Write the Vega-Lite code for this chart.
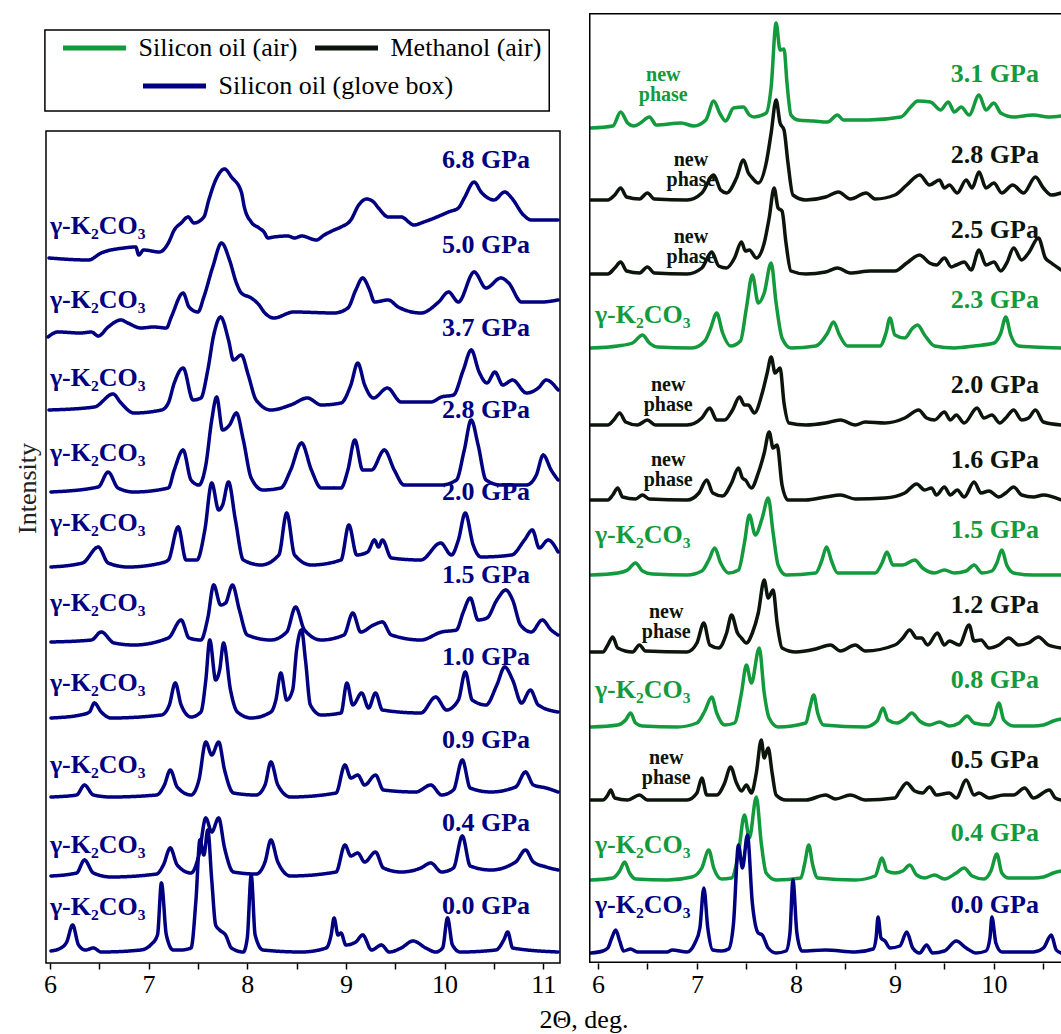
{
"$schema": "https://vega.github.io/schema/vega-lite/v6.json",
"background": "white",
"padding": {"left": 14, "top": 13, "right": 0, "bottom": 0},
"config": {"view": {"stroke": null}, "font": "Liberation Serif", "legend": {"labelFont": "Liberation Serif"}, "axis": {"labelFont": "Liberation Serif", "titleFont": "Liberation Serif"}},
"title": {"text": "2Θ, deg.", "orient": "bottom", "font": "Liberation Serif", "fontSize": 26, "fontWeight": "normal", "color": "black", "anchor": "middle", "dx": 46, "offset": 10},
"spacing": 29,
"bounds": "flush",
"resolve": {"scale": {"color": "independent"}, "legend": {"color": "independent"}},
"datasets": {
"ser": [
{"s":"L68","m":"Silicon oil (glove box)"},{"s":"L50","m":"Silicon oil (glove box)"},{"s":"L37","m":"Silicon oil (glove box)"},{"s":"L28","m":"Silicon oil (glove box)"},{"s":"L20","m":"Silicon oil (glove box)"},{"s":"L15","m":"Silicon oil (glove box)"},{"s":"L10","m":"Silicon oil (glove box)"},{"s":"L09","m":"Silicon oil (glove box)"},{"s":"L04","m":"Silicon oil (glove box)"},{"s":"L00","m":"Silicon oil (glove box)"},
{"s":"R31","m":"Silicon oil (air)"},{"s":"R28","m":"Methanol (air)"},{"s":"R25","m":"Methanol (air)"},{"s":"R23","m":"Silicon oil (air)"},{"s":"R20","m":"Methanol (air)"},{"s":"R16","m":"Methanol (air)"},{"s":"R15","m":"Silicon oil (air)"},{"s":"R12","m":"Methanol (air)"},{"s":"R08","m":"Silicon oil (air)"},{"s":"R05","m":"Methanol (air)"},{"s":"R04","m":"Silicon oil (air)"},{"s":"R00","m":"Silicon oil (glove box)"}
],
"L": [
{"s":"L68","x":5.99,"y":705},{"s":"L68","x":6.39,"y":703},{"s":"L68","x":6.52,"y":710},{"s":"L68","x":6.75,"y":715},{"s":"L68","x":6.87,"y":716},{"s":"L68","x":6.9,"y":708},{"s":"L68","x":6.95,"y":713},{"s":"L68","x":7.11,"y":711},{"s":"L68","x":7.2,"y":720},{"s":"L68","x":7.26,"y":733},{"s":"L68","x":7.33,"y":740},{"s":"L68","x":7.4,"y":746},{"s":"L68","x":7.46,"y":740},{"s":"L68","x":7.56,"y":746},{"s":"L68","x":7.61,"y":763},{"s":"L68","x":7.68,"y":783},{"s":"L68","x":7.77,"y":794},{"s":"L68","x":7.84,"y":786},{"s":"L68","x":7.94,"y":771},{"s":"L68","x":7.97,"y":756},{"s":"L68","x":8.04,"y":741},{"s":"L68","x":8.12,"y":735},{"s":"L68","x":8.17,"y":731},{"s":"L68","x":8.21,"y":725},{"s":"L68","x":8.27,"y":726},{"s":"L68","x":8.41,"y":727},{"s":"L68","x":8.48,"y":725},{"s":"L68","x":8.55,"y":727},{"s":"L68","x":8.7,"y":723},{"s":"L68","x":8.78,"y":728},{"s":"L68","x":8.88,"y":733},{"s":"L68","x":8.95,"y":736},{"s":"L68","x":9.05,"y":743},{"s":"L68","x":9.13,"y":758},{"s":"L68","x":9.21,"y":764},{"s":"L68","x":9.28,"y":761},{"s":"L68","x":9.33,"y":755},{"s":"L68","x":9.43,"y":746},{"s":"L68","x":9.56,"y":746},{"s":"L68","x":9.69,"y":738},{"s":"L68","x":9.79,"y":741},{"s":"L68","x":9.97,"y":748},{"s":"L68","x":10.04,"y":751},{"s":"L68","x":10.14,"y":755},{"s":"L68","x":10.2,"y":765},{"s":"L68","x":10.3,"y":781},{"s":"L68","x":10.37,"y":771},{"s":"L68","x":10.44,"y":765},{"s":"L68","x":10.5,"y":763},{"s":"L68","x":10.61,"y":771},{"s":"L68","x":10.68,"y":765},{"s":"L68","x":10.8,"y":748},{"s":"L68","x":10.88,"y":743},{"s":"L68","x":10.98,"y":743},{"s":"L68","x":11.15,"y":743},
{"s":"L50","x":5.98,"y":626},{"s":"L50","x":6.08,"y":631},{"s":"L50","x":6.31,"y":630},{"s":"L50","x":6.42,"y":631},{"s":"L50","x":6.49,"y":627},{"s":"L50","x":6.59,"y":636},{"s":"L50","x":6.72,"y":643},{"s":"L50","x":6.79,"y":640},{"s":"L50","x":6.92,"y":635},{"s":"L50","x":7.05,"y":636},{"s":"L50","x":7.18,"y":635},{"s":"L50","x":7.23,"y":646},{"s":"L50","x":7.35,"y":670},{"s":"L50","x":7.41,"y":656},{"s":"L50","x":7.5,"y":651},{"s":"L50","x":7.56,"y":666},{"s":"L50","x":7.65,"y":696},{"s":"L50","x":7.74,"y":720},{"s":"L50","x":7.82,"y":703},{"s":"L50","x":7.89,"y":680},{"s":"L50","x":7.94,"y":670},{"s":"L50","x":8.04,"y":665},{"s":"L50","x":8.12,"y":658},{"s":"L50","x":8.17,"y":651},{"s":"L50","x":8.27,"y":645},{"s":"L50","x":8.47,"y":651},{"s":"L50","x":8.88,"y":650},{"s":"L50","x":9.02,"y":655},{"s":"L50","x":9.1,"y":673},{"s":"L50","x":9.17,"y":685},{"s":"L50","x":9.24,"y":673},{"s":"L50","x":9.29,"y":661},{"s":"L50","x":9.43,"y":663},{"s":"L50","x":9.53,"y":656},{"s":"L50","x":9.76,"y":650},{"s":"L50","x":9.94,"y":661},{"s":"L50","x":10.04,"y":671},{"s":"L50","x":10.14,"y":661},{"s":"L50","x":10.3,"y":691},{"s":"L50","x":10.42,"y":675},{"s":"L50","x":10.57,"y":685},{"s":"L50","x":10.65,"y":680},{"s":"L50","x":10.78,"y":661},{"s":"L50","x":10.98,"y":661},{"s":"L50","x":11.15,"y":663},
{"s":"L37","x":5.99,"y":553},{"s":"L37","x":6.45,"y":556},{"s":"L37","x":6.64,"y":569},{"s":"L37","x":6.72,"y":560},{"s":"L37","x":6.85,"y":550},{"s":"L37","x":7.13,"y":553},{"s":"L37","x":7.2,"y":560},{"s":"L37","x":7.26,"y":580},{"s":"L37","x":7.35,"y":595},{"s":"L37","x":7.45,"y":563},{"s":"L37","x":7.53,"y":565},{"s":"L37","x":7.6,"y":593},{"s":"L37","x":7.66,"y":628},{"s":"L37","x":7.73,"y":646},{"s":"L37","x":7.81,"y":623},{"s":"L37","x":7.86,"y":603},{"s":"L37","x":7.94,"y":608},{"s":"L37","x":8.01,"y":588},{"s":"L37","x":8.09,"y":563},{"s":"L37","x":8.24,"y":553},{"s":"L37","x":8.44,"y":558},{"s":"L37","x":8.61,"y":565},{"s":"L37","x":8.75,"y":558},{"s":"L37","x":8.95,"y":560},{"s":"L37","x":9.05,"y":578},{"s":"L37","x":9.12,"y":600},{"s":"L37","x":9.19,"y":578},{"s":"L37","x":9.28,"y":565},{"s":"L37","x":9.42,"y":575},{"s":"L37","x":9.56,"y":561},{"s":"L37","x":9.86,"y":561},{"s":"L37","x":9.97,"y":566},{"s":"L37","x":10.09,"y":568},{"s":"L37","x":10.19,"y":593},{"s":"L37","x":10.27,"y":613},{"s":"L37","x":10.35,"y":591},{"s":"L37","x":10.43,"y":580},{"s":"L37","x":10.51,"y":591},{"s":"L37","x":10.59,"y":578},{"s":"L37","x":10.69,"y":583},{"s":"L37","x":10.83,"y":570},{"s":"L37","x":10.95,"y":575},{"s":"L37","x":11.03,"y":583},{"s":"L37","x":11.15,"y":573},
{"s":"L28","x":6.01,"y":471},{"s":"L28","x":6.49,"y":476},{"s":"L28","x":6.59,"y":491},{"s":"L28","x":6.69,"y":475},{"s":"L28","x":6.85,"y":471},{"s":"L28","x":7.2,"y":475},{"s":"L28","x":7.26,"y":493},{"s":"L28","x":7.35,"y":513},{"s":"L28","x":7.43,"y":483},{"s":"L28","x":7.51,"y":478},{"s":"L28","x":7.58,"y":498},{"s":"L28","x":7.64,"y":543},{"s":"L28","x":7.69,"y":566},{"s":"L28","x":7.75,"y":533},{"s":"L28","x":7.82,"y":538},{"s":"L28","x":7.89,"y":550},{"s":"L28","x":7.96,"y":523},{"s":"L28","x":8.04,"y":485},{"s":"L28","x":8.16,"y":473},{"s":"L28","x":8.34,"y":475},{"s":"L28","x":8.44,"y":493},{"s":"L28","x":8.55,"y":520},{"s":"L28","x":8.65,"y":493},{"s":"L28","x":8.75,"y":475},{"s":"L28","x":8.95,"y":475},{"s":"L28","x":9.02,"y":493},{"s":"L28","x":9.09,"y":523},{"s":"L28","x":9.17,"y":493},{"s":"L28","x":9.26,"y":493},{"s":"L28","x":9.39,"y":513},{"s":"L28","x":9.49,"y":493},{"s":"L28","x":9.59,"y":478},{"s":"L28","x":9.97,"y":478},{"s":"L28","x":10.12,"y":483},{"s":"L28","x":10.2,"y":513},{"s":"L28","x":10.27,"y":543},{"s":"L28","x":10.34,"y":518},{"s":"L28","x":10.42,"y":483},{"s":"L28","x":10.57,"y":478},{"s":"L28","x":10.83,"y":478},{"s":"L28","x":10.93,"y":488},{"s":"L28","x":11.0,"y":508},{"s":"L28","x":11.08,"y":493},{"s":"L28","x":11.15,"y":483},
{"s":"L20","x":6.01,"y":396},{"s":"L20","x":6.33,"y":400},{"s":"L20","x":6.49,"y":416},{"s":"L20","x":6.59,"y":400},{"s":"L20","x":6.79,"y":396},{"s":"L20","x":7.13,"y":400},{"s":"L20","x":7.2,"y":403},{"s":"L20","x":7.3,"y":436},{"s":"L20","x":7.38,"y":403},{"s":"L20","x":7.49,"y":403},{"s":"L20","x":7.57,"y":433},{"s":"L20","x":7.64,"y":480},{"s":"L20","x":7.71,"y":453},{"s":"L20","x":7.75,"y":458},{"s":"L20","x":7.81,"y":481},{"s":"L20","x":7.88,"y":443},{"s":"L20","x":7.96,"y":403},{"s":"L20","x":8.14,"y":398},{"s":"L20","x":8.32,"y":408},{"s":"L20","x":8.4,"y":450},{"s":"L20","x":8.48,"y":408},{"s":"L20","x":8.65,"y":398},{"s":"L20","x":8.95,"y":403},{"s":"L20","x":9.03,"y":438},{"s":"L20","x":9.11,"y":408},{"s":"L20","x":9.22,"y":411},{"s":"L20","x":9.29,"y":423},{"s":"L20","x":9.33,"y":416},{"s":"L20","x":9.37,"y":423},{"s":"L20","x":9.46,"y":405},{"s":"L20","x":9.76,"y":403},{"s":"L20","x":9.96,"y":420},{"s":"L20","x":10.07,"y":408},{"s":"L20","x":10.14,"y":423},{"s":"L20","x":10.21,"y":450},{"s":"L20","x":10.29,"y":418},{"s":"L20","x":10.37,"y":406},{"s":"L20","x":10.68,"y":408},{"s":"L20","x":10.81,"y":423},{"s":"L20","x":10.89,"y":433},{"s":"L20","x":10.96,"y":415},{"s":"L20","x":11.05,"y":423},{"s":"L20","x":11.15,"y":411},
{"s":"L15","x":6.01,"y":321},{"s":"L15","x":6.42,"y":323},{"s":"L15","x":6.52,"y":331},{"s":"L15","x":6.65,"y":320},{"s":"L15","x":6.85,"y":318},{"s":"L15","x":7.2,"y":325},{"s":"L15","x":7.33,"y":343},{"s":"L15","x":7.41,"y":325},{"s":"L15","x":7.53,"y":323},{"s":"L15","x":7.6,"y":345},{"s":"L15","x":7.66,"y":378},{"s":"L15","x":7.73,"y":358},{"s":"L15","x":7.78,"y":360},{"s":"L15","x":7.85,"y":378},{"s":"L15","x":7.92,"y":353},{"s":"L15","x":8.0,"y":328},{"s":"L15","x":8.24,"y":323},{"s":"L15","x":8.4,"y":331},{"s":"L15","x":8.49,"y":356},{"s":"L15","x":8.58,"y":333},{"s":"L15","x":8.75,"y":323},{"s":"L15","x":8.98,"y":328},{"s":"L15","x":9.07,"y":350},{"s":"L15","x":9.15,"y":331},{"s":"L15","x":9.28,"y":338},{"s":"L15","x":9.37,"y":341},{"s":"L15","x":9.46,"y":328},{"s":"L15","x":9.76,"y":323},{"s":"L15","x":9.97,"y":331},{"s":"L15","x":10.12,"y":333},{"s":"L15","x":10.19,"y":351},{"s":"L15","x":10.26,"y":365},{"s":"L15","x":10.34,"y":343},{"s":"L15","x":10.43,"y":345},{"s":"L15","x":10.53,"y":363},{"s":"L15","x":10.62,"y":373},{"s":"L15","x":10.69,"y":363},{"s":"L15","x":10.77,"y":338},{"s":"L15","x":10.88,"y":331},{"s":"L15","x":10.99,"y":343},{"s":"L15","x":11.08,"y":333},{"s":"L15","x":11.15,"y":328},
{"s":"L10","x":6.01,"y":245},{"s":"L10","x":6.31,"y":248},{"s":"L10","x":6.4,"y":251},{"s":"L10","x":6.45,"y":260},{"s":"L10","x":6.52,"y":251},{"s":"L10","x":6.62,"y":245},{"s":"L10","x":7.13,"y":248},{"s":"L10","x":7.21,"y":258},{"s":"L10","x":7.27,"y":280},{"s":"L10","x":7.33,"y":258},{"s":"L10","x":7.43,"y":246},{"s":"L10","x":7.53,"y":251},{"s":"L10","x":7.58,"y":283},{"s":"L10","x":7.62,"y":323},{"s":"L10","x":7.68,"y":283},{"s":"L10","x":7.72,"y":293},{"s":"L10","x":7.76,"y":320},{"s":"L10","x":7.83,"y":273},{"s":"L10","x":7.9,"y":251},{"s":"L10","x":8.04,"y":245},{"s":"L10","x":8.24,"y":251},{"s":"L10","x":8.29,"y":263},{"s":"L10","x":8.34,"y":290},{"s":"L10","x":8.4,"y":263},{"s":"L10","x":8.46,"y":273},{"s":"L10","x":8.5,"y":313},{"s":"L10","x":8.55,"y":333},{"s":"L10","x":8.59,"y":303},{"s":"L10","x":8.64,"y":258},{"s":"L10","x":8.75,"y":248},{"s":"L10","x":8.95,"y":250},{"s":"L10","x":9.01,"y":280},{"s":"L10","x":9.07,"y":258},{"s":"L10","x":9.16,"y":270},{"s":"L10","x":9.23,"y":255},{"s":"L10","x":9.3,"y":270},{"s":"L10","x":9.37,"y":253},{"s":"L10","x":9.76,"y":250},{"s":"L10","x":9.91,"y":266},{"s":"L10","x":10.02,"y":253},{"s":"L10","x":10.14,"y":263},{"s":"L10","x":10.21,"y":291},{"s":"L10","x":10.28,"y":263},{"s":"L10","x":10.42,"y":258},{"s":"L10","x":10.53,"y":278},{"s":"L10","x":10.61,"y":296},{"s":"L10","x":10.69,"y":283},{"s":"L10","x":10.78,"y":260},{"s":"L10","x":10.87,"y":273},{"s":"L10","x":10.95,"y":258},{"s":"L10","x":11.15,"y":251},
{"s":"L09","x":6.01,"y":166},{"s":"L09","x":6.27,"y":168},{"s":"L09","x":6.35,"y":178},{"s":"L09","x":6.44,"y":168},{"s":"L09","x":6.62,"y":166},{"s":"L09","x":7.08,"y":168},{"s":"L09","x":7.16,"y":178},{"s":"L09","x":7.22,"y":193},{"s":"L09","x":7.29,"y":176},{"s":"L09","x":7.43,"y":168},{"s":"L09","x":7.51,"y":183},{"s":"L09","x":7.58,"y":221},{"s":"L09","x":7.64,"y":208},{"s":"L09","x":7.71,"y":221},{"s":"L09","x":7.77,"y":193},{"s":"L09","x":7.86,"y":170},{"s":"L09","x":8.09,"y":168},{"s":"L09","x":8.18,"y":178},{"s":"L09","x":8.24,"y":201},{"s":"L09","x":8.31,"y":178},{"s":"L09","x":8.44,"y":166},{"s":"L09","x":8.9,"y":170},{"s":"L09","x":8.99,"y":198},{"s":"L09","x":9.05,"y":185},{"s":"L09","x":9.12,"y":188},{"s":"L09","x":9.19,"y":178},{"s":"L09","x":9.3,"y":188},{"s":"L09","x":9.38,"y":173},{"s":"L09","x":9.71,"y":171},{"s":"L09","x":9.86,"y":178},{"s":"L09","x":9.97,"y":168},{"s":"L09","x":10.09,"y":173},{"s":"L09","x":10.18,"y":203},{"s":"L09","x":10.26,"y":175},{"s":"L09","x":10.47,"y":171},{"s":"L09","x":10.72,"y":176},{"s":"L09","x":10.82,"y":191},{"s":"L09","x":10.9,"y":178},{"s":"L09","x":11.03,"y":175},{"s":"L09","x":11.15,"y":171},
{"s":"L04","x":6.01,"y":87},{"s":"L04","x":6.27,"y":90},{"s":"L04","x":6.35,"y":103},{"s":"L04","x":6.44,"y":90},{"s":"L04","x":6.62,"y":86},{"s":"L04","x":7.08,"y":89},{"s":"L04","x":7.15,"y":98},{"s":"L04","x":7.22,"y":115},{"s":"L04","x":7.29,"y":98},{"s":"L04","x":7.43,"y":90},{"s":"L04","x":7.51,"y":108},{"s":"L04","x":7.58,"y":145},{"s":"L04","x":7.64,"y":131},{"s":"L04","x":7.71,"y":145},{"s":"L04","x":7.77,"y":115},{"s":"L04","x":7.86,"y":91},{"s":"L04","x":8.09,"y":89},{"s":"L04","x":8.18,"y":101},{"s":"L04","x":8.24,"y":123},{"s":"L04","x":8.31,"y":101},{"s":"L04","x":8.44,"y":87},{"s":"L04","x":8.9,"y":91},{"s":"L04","x":8.99,"y":118},{"s":"L04","x":9.05,"y":107},{"s":"L04","x":9.12,"y":110},{"s":"L04","x":9.19,"y":101},{"s":"L04","x":9.3,"y":111},{"s":"L04","x":9.38,"y":95},{"s":"L04","x":9.56,"y":91},{"s":"L04","x":9.76,"y":95},{"s":"L04","x":9.86,"y":100},{"s":"L04","x":9.97,"y":91},{"s":"L04","x":10.09,"y":95},{"s":"L04","x":10.18,"y":127},{"s":"L04","x":10.26,"y":97},{"s":"L04","x":10.47,"y":93},{"s":"L04","x":10.72,"y":101},{"s":"L04","x":10.82,"y":113},{"s":"L04","x":10.9,"y":101},{"s":"L04","x":11.03,"y":96},{"s":"L04","x":11.15,"y":93},
{"s":"L00","x":6.01,"y":12},{"s":"L00","x":6.11,"y":15},{"s":"L00","x":6.17,"y":21},{"s":"L00","x":6.23,"y":38},{"s":"L00","x":6.29,"y":18},{"s":"L00","x":6.36,"y":13},{"s":"L00","x":6.44,"y":15},{"s":"L00","x":6.52,"y":11},{"s":"L00","x":6.92,"y":13},{"s":"L00","x":7.02,"y":18},{"s":"L00","x":7.09,"y":28},{"s":"L00","x":7.13,"y":80},{"s":"L00","x":7.18,"y":28},{"s":"L00","x":7.25,"y":13},{"s":"L00","x":7.33,"y":13},{"s":"L00","x":7.43,"y":15},{"s":"L00","x":7.48,"y":63},{"s":"L00","x":7.52,"y":123},{"s":"L00","x":7.56,"y":108},{"s":"L00","x":7.6,"y":133},{"s":"L00","x":7.64,"y":83},{"s":"L00","x":7.68,"y":38},{"s":"L00","x":7.72,"y":33},{"s":"L00","x":7.78,"y":28},{"s":"L00","x":7.84,"y":15},{"s":"L00","x":7.96,"y":11},{"s":"L00","x":8.0,"y":25},{"s":"L00","x":8.04,"y":88},{"s":"L00","x":8.08,"y":28},{"s":"L00","x":8.16,"y":13},{"s":"L00","x":8.55,"y":11},{"s":"L00","x":8.8,"y":15},{"s":"L00","x":8.85,"y":28},{"s":"L00","x":8.88,"y":45},{"s":"L00","x":8.92,"y":28},{"s":"L00","x":8.95,"y":30},{"s":"L00","x":9.0,"y":18},{"s":"L00","x":9.1,"y":21},{"s":"L00","x":9.17,"y":28},{"s":"L00","x":9.26,"y":13},{"s":"L00","x":9.36,"y":18},{"s":"L00","x":9.44,"y":11},{"s":"L00","x":9.56,"y":15},{"s":"L00","x":9.68,"y":22},{"s":"L00","x":9.81,"y":15},{"s":"L00","x":9.91,"y":11},{"s":"L00","x":9.98,"y":15},{"s":"L00","x":10.03,"y":45},{"s":"L00","x":10.08,"y":18},{"s":"L00","x":10.16,"y":11},{"s":"L00","x":10.52,"y":13},{"s":"L00","x":10.6,"y":23},{"s":"L00","x":10.64,"y":31},{"s":"L00","x":10.69,"y":15},{"s":"L00","x":11.15,"y":11}
],
"R": [
{"s":"R31","x":5.93,"y":835},{"s":"R31","x":6.15,"y":837},{"s":"R31","x":6.23,"y":851},{"s":"R31","x":6.3,"y":840},{"s":"R31","x":6.36,"y":837},{"s":"R31","x":6.43,"y":840},{"s":"R31","x":6.52,"y":846},{"s":"R31","x":6.59,"y":838},{"s":"R31","x":6.84,"y":840},{"s":"R31","x":6.97,"y":837},{"s":"R31","x":7.09,"y":843},{"s":"R31","x":7.17,"y":862},{"s":"R31","x":7.23,"y":850},{"s":"R31","x":7.29,"y":842},{"s":"R31","x":7.37,"y":855},{"s":"R31","x":7.47,"y":856},{"s":"R31","x":7.53,"y":848},{"s":"R31","x":7.58,"y":846},{"s":"R31","x":7.7,"y":850},{"s":"R31","x":7.75,"y":876},{"s":"R31","x":7.8,"y":940},{"s":"R31","x":7.84,"y":913},{"s":"R31","x":7.88,"y":914},{"s":"R31","x":7.91,"y":880},{"s":"R31","x":7.95,"y":848},{"s":"R31","x":8.02,"y":843},{"s":"R31","x":8.18,"y":842},{"s":"R31","x":8.32,"y":841},{"s":"R31","x":8.42,"y":848},{"s":"R31","x":8.48,"y":843},{"s":"R31","x":8.73,"y":843},{"s":"R31","x":9.06,"y":846},{"s":"R31","x":9.16,"y":856},{"s":"R31","x":9.23,"y":862},{"s":"R31","x":9.36,"y":861},{"s":"R31","x":9.46,"y":853},{"s":"R31","x":9.54,"y":861},{"s":"R31","x":9.6,"y":851},{"s":"R31","x":9.67,"y":856},{"s":"R31","x":9.75,"y":848},{"s":"R31","x":9.85,"y":868},{"s":"R31","x":9.92,"y":853},{"s":"R31","x":10.0,"y":860},{"s":"R31","x":10.07,"y":850},{"s":"R31","x":10.2,"y":846},{"s":"R31","x":10.4,"y":848},{"s":"R31","x":10.55,"y":846},{"s":"R31","x":10.68,"y":847},
{"s":"R28","x":5.93,"y":763},{"s":"R28","x":6.1,"y":763},{"s":"R28","x":6.17,"y":768},{"s":"R28","x":6.23,"y":775},{"s":"R28","x":6.29,"y":766},{"s":"R28","x":6.42,"y":764},{"s":"R28","x":6.5,"y":770},{"s":"R28","x":6.57,"y":764},{"s":"R28","x":6.9,"y":763},{"s":"R28","x":7.05,"y":770},{"s":"R28","x":7.17,"y":788},{"s":"R28","x":7.24,"y":773},{"s":"R28","x":7.3,"y":770},{"s":"R28","x":7.4,"y":785},{"s":"R28","x":7.47,"y":803},{"s":"R28","x":7.52,"y":790},{"s":"R28","x":7.56,"y":785},{"s":"R28","x":7.62,"y":780},{"s":"R28","x":7.7,"y":800},{"s":"R28","x":7.75,"y":830},{"s":"R28","x":7.8,"y":863},{"s":"R28","x":7.84,"y":840},{"s":"R28","x":7.88,"y":833},{"s":"R28","x":7.92,"y":800},{"s":"R28","x":7.97,"y":768},{"s":"R28","x":8.1,"y":763},{"s":"R28","x":8.3,"y":766},{"s":"R28","x":8.43,"y":771},{"s":"R28","x":8.55,"y":764},{"s":"R28","x":8.71,"y":770},{"s":"R28","x":8.8,"y":764},{"s":"R28","x":9.0,"y":768},{"s":"R28","x":9.12,"y":778},{"s":"R28","x":9.25,"y":788},{"s":"R28","x":9.35,"y":778},{"s":"R28","x":9.45,"y":783},{"s":"R28","x":9.5,"y":775},{"s":"R28","x":9.55,"y":778},{"s":"R28","x":9.63,"y":770},{"s":"R28","x":9.72,"y":783},{"s":"R28","x":9.78,"y":775},{"s":"R28","x":9.85,"y":791},{"s":"R28","x":9.92,"y":775},{"s":"R28","x":10.0,"y":780},{"s":"R28","x":10.08,"y":770},{"s":"R28","x":10.19,"y":778},{"s":"R28","x":10.3,"y":770},{"s":"R28","x":10.42,"y":786},{"s":"R28","x":10.5,"y":775},{"s":"R28","x":10.58,"y":768},{"s":"R28","x":10.68,"y":770},
{"s":"R25","x":5.93,"y":689},{"s":"R25","x":6.1,"y":689},{"s":"R25","x":6.17,"y":695},{"s":"R25","x":6.23,"y":701},{"s":"R25","x":6.29,"y":692},{"s":"R25","x":6.42,"y":690},{"s":"R25","x":6.5,"y":696},{"s":"R25","x":6.57,"y":690},{"s":"R25","x":6.9,"y":689},{"s":"R25","x":7.05,"y":695},{"s":"R25","x":7.15,"y":711},{"s":"R25","x":7.22,"y":697},{"s":"R25","x":7.3,"y":695},{"s":"R25","x":7.38,"y":705},{"s":"R25","x":7.45,"y":721},{"s":"R25","x":7.49,"y":712},{"s":"R25","x":7.53,"y":713},{"s":"R25","x":7.6,"y":705},{"s":"R25","x":7.68,"y":720},{"s":"R25","x":7.73,"y":745},{"s":"R25","x":7.78,"y":775},{"s":"R25","x":7.82,"y":755},{"s":"R25","x":7.86,"y":752},{"s":"R25","x":7.9,"y":720},{"s":"R25","x":7.95,"y":692},{"s":"R25","x":8.1,"y":689},{"s":"R25","x":8.3,"y":691},{"s":"R25","x":8.42,"y":695},{"s":"R25","x":8.55,"y":690},{"s":"R25","x":8.75,"y":692},{"s":"R25","x":9.0,"y":692},{"s":"R25","x":9.12,"y":700},{"s":"R25","x":9.25,"y":708},{"s":"R25","x":9.35,"y":700},{"s":"R25","x":9.42,"y":698},{"s":"R25","x":9.5,"y":705},{"s":"R25","x":9.57,"y":696},{"s":"R25","x":9.62,"y":698},{"s":"R25","x":9.7,"y":701},{"s":"R25","x":9.77,"y":693},{"s":"R25","x":9.85,"y":713},{"s":"R25","x":9.92,"y":698},{"s":"R25","x":10.0,"y":701},{"s":"R25","x":10.07,"y":692},{"s":"R25","x":10.13,"y":700},{"s":"R25","x":10.2,"y":715},{"s":"R25","x":10.28,"y":703},{"s":"R25","x":10.35,"y":710},{"s":"R25","x":10.45,"y":725},{"s":"R25","x":10.52,"y":705},{"s":"R25","x":10.58,"y":700},{"s":"R25","x":10.68,"y":693},
{"s":"R23","x":5.93,"y":615},{"s":"R23","x":6.2,"y":617},{"s":"R23","x":6.35,"y":620},{"s":"R23","x":6.45,"y":628},{"s":"R23","x":6.52,"y":620},{"s":"R23","x":6.6,"y":616},{"s":"R23","x":6.95,"y":615},{"s":"R23","x":7.08,"y":622},{"s":"R23","x":7.14,"y":635},{"s":"R23","x":7.2,"y":650},{"s":"R23","x":7.26,"y":630},{"s":"R23","x":7.34,"y":617},{"s":"R23","x":7.44,"y":622},{"s":"R23","x":7.5,"y":655},{"s":"R23","x":7.56,"y":688},{"s":"R23","x":7.62,"y":660},{"s":"R23","x":7.68,"y":670},{"s":"R23","x":7.75,"y":700},{"s":"R23","x":7.8,"y":660},{"s":"R23","x":7.86,"y":625},{"s":"R23","x":7.95,"y":615},{"s":"R23","x":8.2,"y":617},{"s":"R23","x":8.32,"y":630},{"s":"R23","x":8.38,"y":641},{"s":"R23","x":8.44,"y":628},{"s":"R23","x":8.52,"y":617},{"s":"R23","x":8.85,"y":617},{"s":"R23","x":8.91,"y":630},{"s":"R23","x":8.95,"y":645},{"s":"R23","x":9.0,"y":628},{"s":"R23","x":9.1,"y":625},{"s":"R23","x":9.18,"y":635},{"s":"R23","x":9.23,"y":638},{"s":"R23","x":9.3,"y":628},{"s":"R23","x":9.4,"y":617},{"s":"R23","x":9.6,"y":615},{"s":"R23","x":9.8,"y":617},{"s":"R23","x":10.0,"y":620},{"s":"R23","x":10.07,"y":630},{"s":"R23","x":10.12,"y":646},{"s":"R23","x":10.17,"y":628},{"s":"R23","x":10.25,"y":617},{"s":"R23","x":10.4,"y":616},{"s":"R23","x":10.68,"y":615},
{"s":"R20","x":5.93,"y":538},{"s":"R20","x":6.1,"y":538},{"s":"R20","x":6.16,"y":543},{"s":"R20","x":6.22,"y":550},{"s":"R20","x":6.28,"y":541},{"s":"R20","x":6.4,"y":538},{"s":"R20","x":6.5,"y":543},{"s":"R20","x":6.58,"y":538},{"s":"R20","x":6.9,"y":538},{"s":"R20","x":7.05,"y":545},{"s":"R20","x":7.13,"y":555},{"s":"R20","x":7.2,"y":543},{"s":"R20","x":7.28,"y":543},{"s":"R20","x":7.36,"y":553},{"s":"R20","x":7.43,"y":566},{"s":"R20","x":7.48,"y":558},{"s":"R20","x":7.52,"y":558},{"s":"R20","x":7.58,"y":550},{"s":"R20","x":7.66,"y":570},{"s":"R20","x":7.71,"y":590},{"s":"R20","x":7.75,"y":606},{"s":"R20","x":7.79,"y":590},{"s":"R20","x":7.84,"y":595},{"s":"R20","x":7.88,"y":560},{"s":"R20","x":7.93,"y":540},{"s":"R20","x":8.1,"y":538},{"s":"R20","x":8.3,"y":540},{"s":"R20","x":8.45,"y":543},{"s":"R20","x":8.6,"y":538},{"s":"R20","x":8.7,"y":541},{"s":"R20","x":8.9,"y":540},{"s":"R20","x":9.1,"y":545},{"s":"R20","x":9.24,"y":553},{"s":"R20","x":9.32,"y":545},{"s":"R20","x":9.4,"y":543},{"s":"R20","x":9.5,"y":551},{"s":"R20","x":9.56,"y":543},{"s":"R20","x":9.62,"y":548},{"s":"R20","x":9.7,"y":540},{"s":"R20","x":9.83,"y":555},{"s":"R20","x":9.9,"y":545},{"s":"R20","x":9.98,"y":548},{"s":"R20","x":10.06,"y":540},{"s":"R20","x":10.12,"y":545},{"s":"R20","x":10.2,"y":553},{"s":"R20","x":10.28,"y":543},{"s":"R20","x":10.35,"y":545},{"s":"R20","x":10.42,"y":553},{"s":"R20","x":10.5,"y":541},{"s":"R20","x":10.68,"y":538},
{"s":"R16","x":5.93,"y":463},{"s":"R16","x":6.1,"y":463},{"s":"R16","x":6.15,"y":468},{"s":"R16","x":6.2,"y":475},{"s":"R16","x":6.25,"y":466},{"s":"R16","x":6.38,"y":464},{"s":"R16","x":6.45,"y":468},{"s":"R16","x":6.52,"y":464},{"s":"R16","x":6.9,"y":463},{"s":"R16","x":7.02,"y":470},{"s":"R16","x":7.1,"y":483},{"s":"R16","x":7.16,"y":470},{"s":"R16","x":7.26,"y":467},{"s":"R16","x":7.35,"y":480},{"s":"R16","x":7.42,"y":495},{"s":"R16","x":7.46,"y":485},{"s":"R16","x":7.49,"y":483},{"s":"R16","x":7.55,"y":475},{"s":"R16","x":7.62,"y":490},{"s":"R16","x":7.68,"y":510},{"s":"R16","x":7.73,"y":531},{"s":"R16","x":7.77,"y":515},{"s":"R16","x":7.81,"y":518},{"s":"R16","x":7.86,"y":478},{"s":"R16","x":7.92,"y":463},{"s":"R16","x":8.1,"y":463},{"s":"R16","x":8.3,"y":466},{"s":"R16","x":8.45,"y":468},{"s":"R16","x":8.6,"y":464},{"s":"R16","x":8.9,"y":465},{"s":"R16","x":9.1,"y":470},{"s":"R16","x":9.22,"y":479},{"s":"R16","x":9.3,"y":473},{"s":"R16","x":9.37,"y":475},{"s":"R16","x":9.42,"y":468},{"s":"R16","x":9.5,"y":476},{"s":"R16","x":9.56,"y":468},{"s":"R16","x":9.63,"y":473},{"s":"R16","x":9.7,"y":466},{"s":"R16","x":9.8,"y":481},{"s":"R16","x":9.87,"y":470},{"s":"R16","x":9.95,"y":472},{"s":"R16","x":10.05,"y":466},{"s":"R16","x":10.12,"y":470},{"s":"R16","x":10.2,"y":476},{"s":"R16","x":10.28,"y":468},{"s":"R16","x":10.4,"y":466},{"s":"R16","x":10.5,"y":468},{"s":"R16","x":10.68,"y":463},
{"s":"R15","x":5.93,"y":388},{"s":"R15","x":6.2,"y":390},{"s":"R15","x":6.3,"y":393},{"s":"R15","x":6.38,"y":400},{"s":"R15","x":6.45,"y":392},{"s":"R15","x":6.55,"y":389},{"s":"R15","x":6.9,"y":388},{"s":"R15","x":7.05,"y":392},{"s":"R15","x":7.12,"y":403},{"s":"R15","x":7.18,"y":415},{"s":"R15","x":7.24,"y":400},{"s":"R15","x":7.32,"y":390},{"s":"R15","x":7.42,"y":393},{"s":"R15","x":7.48,"y":420},{"s":"R15","x":7.53,"y":448},{"s":"R15","x":7.59,"y":428},{"s":"R15","x":7.66,"y":445},{"s":"R15","x":7.72,"y":465},{"s":"R15","x":7.77,"y":430},{"s":"R15","x":7.82,"y":398},{"s":"R15","x":7.9,"y":388},{"s":"R15","x":8.2,"y":390},{"s":"R15","x":8.26,"y":402},{"s":"R15","x":8.31,"y":416},{"s":"R15","x":8.36,"y":402},{"s":"R15","x":8.42,"y":390},{"s":"R15","x":8.8,"y":390},{"s":"R15","x":8.87,"y":400},{"s":"R15","x":8.92,"y":411},{"s":"R15","x":8.98,"y":398},{"s":"R15","x":9.08,"y":398},{"s":"R15","x":9.2,"y":403},{"s":"R15","x":9.28,"y":395},{"s":"R15","x":9.4,"y":390},{"s":"R15","x":9.5,"y":393},{"s":"R15","x":9.6,"y":390},{"s":"R15","x":9.72,"y":392},{"s":"R15","x":9.8,"y":398},{"s":"R15","x":9.88,"y":390},{"s":"R15","x":9.98,"y":392},{"s":"R15","x":10.03,"y":400},{"s":"R15","x":10.08,"y":413},{"s":"R15","x":10.13,"y":398},{"s":"R15","x":10.2,"y":390},{"s":"R15","x":10.4,"y":388},{"s":"R15","x":10.68,"y":388},
{"s":"R12","x":5.93,"y":311},{"s":"R12","x":6.05,"y":311},{"s":"R12","x":6.1,"y":318},{"s":"R12","x":6.15,"y":326},{"s":"R12","x":6.2,"y":315},{"s":"R12","x":6.35,"y":311},{"s":"R12","x":6.42,"y":318},{"s":"R12","x":6.48,"y":312},{"s":"R12","x":6.9,"y":311},{"s":"R12","x":7.0,"y":320},{"s":"R12","x":7.07,"y":340},{"s":"R12","x":7.13,"y":318},{"s":"R12","x":7.22,"y":315},{"s":"R12","x":7.3,"y":330},{"s":"R12","x":7.35,"y":348},{"s":"R12","x":7.41,"y":330},{"s":"R12","x":7.45,"y":325},{"s":"R12","x":7.5,"y":320},{"s":"R12","x":7.56,"y":330},{"s":"R12","x":7.62,"y":350},{"s":"R12","x":7.68,"y":383},{"s":"R12","x":7.72,"y":365},{"s":"R12","x":7.77,"y":373},{"s":"R12","x":7.81,"y":340},{"s":"R12","x":7.86,"y":315},{"s":"R12","x":8.0,"y":311},{"s":"R12","x":8.2,"y":314},{"s":"R12","x":8.35,"y":318},{"s":"R12","x":8.45,"y":312},{"s":"R12","x":8.6,"y":318},{"s":"R12","x":8.7,"y":312},{"s":"R12","x":9.0,"y":318},{"s":"R12","x":9.08,"y":325},{"s":"R12","x":9.15,"y":333},{"s":"R12","x":9.22,"y":325},{"s":"R12","x":9.27,"y":325},{"s":"R12","x":9.33,"y":318},{"s":"R12","x":9.43,"y":330},{"s":"R12","x":9.5,"y":318},{"s":"R12","x":9.55,"y":322},{"s":"R12","x":9.65,"y":318},{"s":"R12","x":9.75,"y":338},{"s":"R12","x":9.8,"y":322},{"s":"R12","x":9.87,"y":323},{"s":"R12","x":9.95,"y":315},{"s":"R12","x":10.05,"y":318},{"s":"R12","x":10.15,"y":325},{"s":"R12","x":10.25,"y":318},{"s":"R12","x":10.35,"y":320},{"s":"R12","x":10.45,"y":326},{"s":"R12","x":10.55,"y":318},{"s":"R12","x":10.68,"y":315},
{"s":"R08","x":5.93,"y":236},{"s":"R08","x":6.2,"y":238},{"s":"R08","x":6.28,"y":243},{"s":"R08","x":6.33,"y":250},{"s":"R08","x":6.38,"y":240},{"s":"R08","x":6.45,"y":237},{"s":"R08","x":6.8,"y":236},{"s":"R08","x":7.0,"y":240},{"s":"R08","x":7.08,"y":252},{"s":"R08","x":7.15,"y":266},{"s":"R08","x":7.2,"y":250},{"s":"R08","x":7.28,"y":238},{"s":"R08","x":7.38,"y":240},{"s":"R08","x":7.45,"y":270},{"s":"R08","x":7.5,"y":298},{"s":"R08","x":7.55,"y":280},{"s":"R08","x":7.63,"y":315},{"s":"R08","x":7.68,"y":270},{"s":"R08","x":7.73,"y":245},{"s":"R08","x":7.82,"y":236},{"s":"R08","x":8.1,"y":240},{"s":"R08","x":8.14,"y":255},{"s":"R08","x":8.18,"y":268},{"s":"R08","x":8.22,"y":250},{"s":"R08","x":8.28,"y":238},{"s":"R08","x":8.7,"y":236},{"s":"R08","x":8.82,"y":242},{"s":"R08","x":8.88,"y":255},{"s":"R08","x":8.93,"y":243},{"s":"R08","x":9.02,"y":240},{"s":"R08","x":9.1,"y":244},{"s":"R08","x":9.17,"y":250},{"s":"R08","x":9.25,"y":242},{"s":"R08","x":9.35,"y":238},{"s":"R08","x":9.45,"y":241},{"s":"R08","x":9.55,"y":237},{"s":"R08","x":9.65,"y":240},{"s":"R08","x":9.73,"y":247},{"s":"R08","x":9.8,"y":240},{"s":"R08","x":9.95,"y":238},{"s":"R08","x":10.0,"y":245},{"s":"R08","x":10.05,"y":260},{"s":"R08","x":10.1,"y":243},{"s":"R08","x":10.2,"y":237},{"s":"R08","x":10.4,"y":237},{"s":"R08","x":10.5,"y":238},{"s":"R08","x":10.6,"y":242},{"s":"R08","x":10.68,"y":244},
{"s":"R05","x":5.93,"y":163},{"s":"R05","x":6.05,"y":163},{"s":"R05","x":6.1,"y":168},{"s":"R05","x":6.13,"y":173},{"s":"R05","x":6.17,"y":165},{"s":"R05","x":6.3,"y":163},{"s":"R05","x":6.42,"y":168},{"s":"R05","x":6.5,"y":163},{"s":"R05","x":6.9,"y":163},{"s":"R05","x":7.0,"y":170},{"s":"R05","x":7.05,"y":185},{"s":"R05","x":7.1,"y":168},{"s":"R05","x":7.2,"y":168},{"s":"R05","x":7.28,"y":180},{"s":"R05","x":7.34,"y":196},{"s":"R05","x":7.4,"y":180},{"s":"R05","x":7.45,"y":172},{"s":"R05","x":7.5,"y":178},{"s":"R05","x":7.55,"y":170},{"s":"R05","x":7.6,"y":190},{"s":"R05","x":7.65,"y":223},{"s":"R05","x":7.68,"y":205},{"s":"R05","x":7.72,"y":215},{"s":"R05","x":7.76,"y":190},{"s":"R05","x":7.8,"y":168},{"s":"R05","x":7.9,"y":163},{"s":"R05","x":8.1,"y":163},{"s":"R05","x":8.3,"y":168},{"s":"R05","x":8.4,"y":164},{"s":"R05","x":8.55,"y":168},{"s":"R05","x":8.7,"y":163},{"s":"R05","x":9.0,"y":165},{"s":"R05","x":9.05,"y":172},{"s":"R05","x":9.12,"y":180},{"s":"R05","x":9.2,"y":172},{"s":"R05","x":9.28,"y":170},{"s":"R05","x":9.35,"y":176},{"s":"R05","x":9.42,"y":168},{"s":"R05","x":9.55,"y":170},{"s":"R05","x":9.62,"y":165},{"s":"R05","x":9.72,"y":183},{"s":"R05","x":9.8,"y":168},{"s":"R05","x":9.85,"y":170},{"s":"R05","x":9.95,"y":165},{"s":"R05","x":10.1,"y":168},{"s":"R05","x":10.2,"y":168},{"s":"R05","x":10.31,"y":175},{"s":"R05","x":10.4,"y":165},{"s":"R05","x":10.56,"y":173},{"s":"R05","x":10.62,"y":165},{"s":"R05","x":10.68,"y":163},
{"s":"R04","x":5.93,"y":83},{"s":"R04","x":6.15,"y":85},{"s":"R04","x":6.22,"y":92},{"s":"R04","x":6.27,"y":101},{"s":"R04","x":6.32,"y":90},{"s":"R04","x":6.38,"y":84},{"s":"R04","x":6.7,"y":83},{"s":"R04","x":6.95,"y":86},{"s":"R04","x":7.05,"y":95},{"s":"R04","x":7.12,"y":113},{"s":"R04","x":7.17,"y":95},{"s":"R04","x":7.25,"y":84},{"s":"R04","x":7.35,"y":85},{"s":"R04","x":7.42,"y":110},{"s":"R04","x":7.48,"y":148},{"s":"R04","x":7.53,"y":125},{"s":"R04","x":7.6,"y":166},{"s":"R04","x":7.65,"y":120},{"s":"R04","x":7.7,"y":90},{"s":"R04","x":7.8,"y":83},{"s":"R04","x":8.05,"y":85},{"s":"R04","x":8.09,"y":100},{"s":"R04","x":8.13,"y":118},{"s":"R04","x":8.17,"y":98},{"s":"R04","x":8.22,"y":85},{"s":"R04","x":8.6,"y":83},{"s":"R04","x":8.8,"y":87},{"s":"R04","x":8.87,"y":105},{"s":"R04","x":8.92,"y":92},{"s":"R04","x":9.0,"y":90},{"s":"R04","x":9.08,"y":92},{"s":"R04","x":9.15,"y":98},{"s":"R04","x":9.22,"y":88},{"s":"R04","x":9.3,"y":85},{"s":"R04","x":9.4,"y":88},{"s":"R04","x":9.5,"y":84},{"s":"R04","x":9.62,"y":90},{"s":"R04","x":9.7,"y":95},{"s":"R04","x":9.78,"y":87},{"s":"R04","x":9.9,"y":84},{"s":"R04","x":9.97,"y":92},{"s":"R04","x":10.03,"y":109},{"s":"R04","x":10.08,"y":90},{"s":"R04","x":10.15,"y":85},{"s":"R04","x":10.4,"y":85},{"s":"R04","x":10.5,"y":86},{"s":"R04","x":10.6,"y":90},{"s":"R04","x":10.68,"y":92},
{"s":"R00","x":5.93,"y":10},{"s":"R00","x":6.05,"y":12},{"s":"R00","x":6.1,"y":15},{"s":"R00","x":6.14,"y":25},{"s":"R00","x":6.18,"y":33},{"s":"R00","x":6.22,"y":22},{"s":"R00","x":6.26,"y":12},{"s":"R00","x":6.33,"y":14},{"s":"R00","x":6.4,"y":11},{"s":"R00","x":6.7,"y":11},{"s":"R00","x":6.75,"y":13},{"s":"R00","x":6.9,"y":11},{"s":"R00","x":6.98,"y":20},{"s":"R00","x":7.03,"y":35},{"s":"R00","x":7.07,"y":75},{"s":"R00","x":7.11,"y":35},{"s":"R00","x":7.16,"y":13},{"s":"R00","x":7.25,"y":12},{"s":"R00","x":7.32,"y":14},{"s":"R00","x":7.37,"y":40},{"s":"R00","x":7.42,"y":118},{"s":"R00","x":7.46,"y":95},{"s":"R00","x":7.51,"y":128},{"s":"R00","x":7.56,"y":60},{"s":"R00","x":7.62,"y":30},{"s":"R00","x":7.66,"y":28},{"s":"R00","x":7.72,"y":15},{"s":"R00","x":7.8,"y":10},{"s":"R00","x":7.9,"y":12},{"s":"R00","x":7.94,"y":30},{"s":"R00","x":7.97,"y":83},{"s":"R00","x":8.01,"y":30},{"s":"R00","x":8.06,"y":12},{"s":"R00","x":8.3,"y":13},{"s":"R00","x":8.6,"y":11},{"s":"R00","x":8.78,"y":14},{"s":"R00","x":8.81,"y":25},{"s":"R00","x":8.83,"y":46},{"s":"R00","x":8.86,"y":25},{"s":"R00","x":8.9,"y":22},{"s":"R00","x":8.95,"y":15},{"s":"R00","x":9.05,"y":17},{"s":"R00","x":9.12,"y":31},{"s":"R00","x":9.18,"y":15},{"s":"R00","x":9.25,"y":10},{"s":"R00","x":9.32,"y":18},{"s":"R00","x":9.38,"y":10},{"s":"R00","x":9.5,"y":12},{"s":"R00","x":9.62,"y":22},{"s":"R00","x":9.72,"y":15},{"s":"R00","x":9.82,"y":10},{"s":"R00","x":9.92,"y":12},{"s":"R00","x":9.96,"y":25},{"s":"R00","x":9.98,"y":46},{"s":"R00","x":10.02,"y":20},{"s":"R00","x":10.08,"y":11},{"s":"R00","x":10.4,"y":11},{"s":"R00","x":10.5,"y":15},{"s":"R00","x":10.58,"y":28},{"s":"R00","x":10.63,"y":13},{"s":"R00","x":10.68,"y":10}
],
"LT": [
{"k":"p","x":10.42,"y":803,"t":"6.8 GPa","m":"Silicon oil (glove box)"},{"k":"p","x":10.42,"y":718,"t":"5.0 GPa","m":"Silicon oil (glove box)"},{"k":"p","x":10.42,"y":635,"t":"3.7 GPa","m":"Silicon oil (glove box)"},{"k":"p","x":10.42,"y":553,"t":"2.8 GPa","m":"Silicon oil (glove box)"},{"k":"p","x":10.42,"y":471,"t":"2.0 GPa","m":"Silicon oil (glove box)"},{"k":"p","x":10.42,"y":388,"t":"1.5 GPa","m":"Silicon oil (glove box)"},{"k":"p","x":10.42,"y":306,"t":"1.0 GPa","m":"Silicon oil (glove box)"},{"k":"p","x":10.42,"y":223,"t":"0.9 GPa","m":"Silicon oil (glove box)"},{"k":"p","x":10.42,"y":140,"t":"0.4 GPa","m":"Silicon oil (glove box)"},{"k":"p","x":10.42,"y":57,"t":"0.0 GPa","m":"Silicon oil (glove box)"},
{"k":"g","x":6.0,"y":737,"t":"γ-K₂CO₃","m":"Silicon oil (glove box)"},{"k":"g","x":6.0,"y":663,"t":"γ-K₂CO₃","m":"Silicon oil (glove box)"},{"k":"g","x":6.0,"y":585,"t":"γ-K₂CO₃","m":"Silicon oil (glove box)"},{"k":"g","x":6.0,"y":510,"t":"γ-K₂CO₃","m":"Silicon oil (glove box)"},{"k":"g","x":6.0,"y":440,"t":"γ-K₂CO₃","m":"Silicon oil (glove box)"},{"k":"g","x":6.0,"y":360,"t":"γ-K₂CO₃","m":"Silicon oil (glove box)"},{"k":"g","x":6.0,"y":280,"t":"γ-K₂CO₃","m":"Silicon oil (glove box)"},{"k":"g","x":6.0,"y":198,"t":"γ-K₂CO₃","m":"Silicon oil (glove box)"},{"k":"g","x":6.0,"y":118,"t":"γ-K₂CO₃","m":"Silicon oil (glove box)"},{"k":"g","x":6.0,"y":56,"t":"γ-K₂CO₃","m":"Silicon oil (glove box)"}
],
"RT": [
{"k":"p","x":10.01,"y":889,"t":"3.1 GPa","m":"Silicon oil (air)"},{"k":"p","x":10.01,"y":808,"t":"2.8 GPa","m":"Methanol (air)"},{"k":"p","x":10.01,"y":733,"t":"2.5 GPa","m":"Methanol (air)"},{"k":"p","x":10.01,"y":663,"t":"2.3 GPa","m":"Silicon oil (air)"},{"k":"p","x":10.01,"y":578,"t":"2.0 GPa","m":"Methanol (air)"},{"k":"p","x":10.01,"y":503,"t":"1.6 GPa","m":"Methanol (air)"},{"k":"p","x":10.01,"y":433,"t":"1.5 GPa","m":"Silicon oil (air)"},{"k":"p","x":10.01,"y":358,"t":"1.2 GPa","m":"Methanol (air)"},{"k":"p","x":10.01,"y":283,"t":"0.8 GPa","m":"Silicon oil (air)"},{"k":"p","x":10.01,"y":203,"t":"0.5 GPa","m":"Methanol (air)"},{"k":"p","x":10.01,"y":130,"t":"0.4 GPa","m":"Silicon oil (air)"},{"k":"p","x":10.01,"y":58,"t":"0.0 GPa","m":"Silicon oil (glove box)"},
{"k":"g","x":5.97,"y":648,"t":"γ-K₂CO₃","m":"Silicon oil (air)"},{"k":"g","x":5.97,"y":428,"t":"γ-K₂CO₃","m":"Silicon oil (air)"},{"k":"g","x":5.97,"y":273,"t":"γ-K₂CO₃","m":"Silicon oil (air)"},{"k":"g","x":5.97,"y":118,"t":"γ-K₂CO₃","m":"Silicon oil (air)"},{"k":"g","x":5.97,"y":58,"t":"γ-K₂CO₃","m":"Silicon oil (glove box)"},
{"k":"n","x":6.66,"y":888,"t":"new\nphase","m":"Silicon oil (air)"},{"k":"n","x":6.94,"y":803,"t":"new\nphase","m":"Methanol (air)"},{"k":"n","x":6.94,"y":726,"t":"new\nphase","m":"Methanol (air)"},{"k":"n","x":6.71,"y":578,"t":"new\nphase","m":"Methanol (air)"},{"k":"n","x":6.71,"y":503,"t":"new\nphase","m":"Methanol (air)"},{"k":"n","x":6.69,"y":351,"t":"new\nphase","m":"Methanol (air)"},{"k":"n","x":6.69,"y":205,"t":"new\nphase","m":"Methanol (air)"}
]
},
"hconcat": [
{
"width": 514, "height": 950,
"layer": [
{"data": {"name": "L"},
 "transform": [{"lookup": "s", "from": {"data": {"name": "ser"}, "key": "s", "fields": ["m"]}}],
 "mark": {"type": "line", "strokeWidth": 3.5, "interpolate": "monotone", "clip": true, "strokeJoin": "round", "strokeCap": "round"},
 "encoding": {
  "x": {"field": "x", "type": "quantitative", "scale": {"domain": [5.96, 11.17], "nice": false, "zero": false},
        "axis": {"title": null, "values": [6, 6.5, 7, 7.5, 8, 8.5, 9, 9.5, 10, 10.5, 11], "labelExpr": "datum.value % 1 === 0 ? format(datum.value, 'd') : ''", "tickSize": 6, "tickWidth": 1.5, "tickColor": "black", "domain": false, "grid": false, "labelFont": "Liberation Serif", "labelFontSize": 26, "labelColor": "black", "labelPadding": 2, "labelFlush": false, "labelOverlap": false}},
  "y": {"field": "y", "type": "quantitative", "scale": {"domain": [0, 950], "nice": false, "zero": false},
        "axis": {"title": "Intensity", "titleFont": "Liberation Serif", "titleFontSize": 26, "titleFontWeight": "normal", "titleColor": "#222", "labels": false, "ticks": false, "domain": false, "grid": false, "titlePadding": 6}},
  "detail": {"field": "s"},
  "color": {"field": "m", "type": "nominal",
            "scale": {"domain": ["Silicon oil (air)", "Methanol (air)", "Silicon oil (glove box)"], "range": ["#139a3c", "#0b150b", "#000080"]},
            "legend": {"orient": "none", "legendX": 14.5, "legendY": 22, "direction": "horizontal", "values": ["Silicon oil (air)", "Methanol (air)"], "title": null, "symbolType": "M-1,0L5,0", "symbolSize": 441, "symbolStrokeWidth": 5, "labelFont": "Liberation Serif", "labelFontSize": 26, "labelColor": "black", "labelLimit": 400, "padding": 0, "columnPadding": 7, "labelOffset": 52}},
  "strokeDash": {"field": "m", "type": "nominal",
            "scale": {"domain": ["Silicon oil (glove box)"], "range": [[1, 0]]},
            "legend": {"orient": "none", "legendX": 94.5, "legendY": 60, "title": null, "symbolType": "M-1,0L5,0", "symbolSize": 441, "symbolStrokeWidth": 5, "symbolStrokeColor": "#000080", "labelFont": "Liberation Serif", "labelFontSize": 26, "labelColor": "black", "labelLimit": 400, "padding": 0, "labelOffset": 52,
                       "encode": {"symbols": {"update": {"stroke": {"value": "#000080"}, "strokeDash": {"value": [1, 0]}}}}}}
 }},
{"data": {"values": [{}]},
 "mark": {"type": "rect", "filled": false, "stroke": "black", "strokeWidth": 1.5},
 "encoding": {"x": {"datum": 5.96}, "x2": {"datum": 11.17}, "y": {"datum": 0}, "y2": {"datum": 832}}},
{"data": {"values": [{}]},
 "mark": {"type": "rect", "filled": false, "stroke": "black", "strokeWidth": 1.5},
 "encoding": {"x": {"datum": 5.949}, "x2": {"datum": 11.061}, "y": {"datum": 852}, "y2": {"datum": 933}}},
{"data": {"name": "LT"}, "transform": [{"filter": "datum.k == 'p'"}],
 "mark": {"type": "text", "font": "Liberation Serif", "fontWeight": "bold", "fontSize": 26, "align": "center", "baseline": "middle"},
 "encoding": {"x": {"field": "x", "type": "quantitative"}, "y": {"field": "y", "type": "quantitative"}, "text": {"field": "t"},
  "fill": {"field": "m", "type": "nominal", "scale": {"domain": ["Silicon oil (air)", "Methanol (air)", "Silicon oil (glove box)"], "range": ["#139a3c", "#0b150b", "#000080"]}, "legend": null}}},
{"data": {"name": "LT"}, "transform": [{"filter": "datum.k == 'g'"}],
 "mark": {"type": "text", "font": "Liberation Serif", "fontWeight": "bold", "fontSize": 26, "align": "left", "baseline": "middle"},
 "encoding": {"x": {"field": "x", "type": "quantitative"}, "y": {"field": "y", "type": "quantitative"}, "text": {"field": "t"},
  "fill": {"field": "m", "type": "nominal", "scale": {"domain": ["Silicon oil (air)", "Methanol (air)", "Silicon oil (glove box)"], "range": ["#139a3c", "#0b150b", "#000080"]}, "legend": null}}}
]
},
{
"width": 473, "height": 950,
"layer": [
{"data": {"name": "R"},
 "transform": [{"lookup": "s", "from": {"data": {"name": "ser"}, "key": "s", "fields": ["m"]}}],
 "mark": {"type": "line", "strokeWidth": 3.5, "interpolate": "monotone", "clip": true, "strokeJoin": "round", "strokeCap": "round"},
 "encoding": {
  "x": {"field": "x", "type": "quantitative", "scale": {"domain": [5.91, 10.688], "nice": false, "zero": false},
        "axis": {"title": null, "values": [6, 6.5, 7, 7.5, 8, 8.5, 9, 9.5, 10, 10.5], "labelExpr": "datum.value % 1 === 0 ? format(datum.value, 'd') : ''", "tickSize": 6, "tickWidth": 1.5, "tickColor": "black", "domain": false, "grid": false, "labelFont": "Liberation Serif", "labelFontSize": 26, "labelColor": "black", "labelPadding": 2, "labelFlush": false, "labelOverlap": false}},
  "y": {"field": "y", "type": "quantitative", "scale": {"domain": [0, 950], "nice": false, "zero": false}, "axis": null},
  "detail": {"field": "s"},
  "color": {"field": "m", "type": "nominal",
            "scale": {"domain": ["Silicon oil (air)", "Methanol (air)", "Silicon oil (glove box)"], "range": ["#139a3c", "#0b150b", "#000080"]},
            "legend": null}
 }},
{"data": {"values": [{}]},
 "mark": {"type": "rect", "filled": false, "stroke": "black", "strokeWidth": 3, "clip": true},
 "encoding": {"x": {"datum": 5.91}, "x2": {"datum": 11.5}, "y": {"datum": 0}, "y2": {"datum": 950}}},
{"data": {"name": "RT"}, "transform": [{"filter": "datum.k == 'p'"}],
 "mark": {"type": "text", "font": "Liberation Serif", "fontWeight": "bold", "fontSize": 26, "align": "center", "baseline": "middle"},
 "encoding": {"x": {"field": "x", "type": "quantitative"}, "y": {"field": "y", "type": "quantitative"}, "text": {"field": "t"},
  "fill": {"field": "m", "type": "nominal", "scale": {"domain": ["Silicon oil (air)", "Methanol (air)", "Silicon oil (glove box)"], "range": ["#139a3c", "#0b150b", "#000080"]}, "legend": null}}},
{"data": {"name": "RT"}, "transform": [{"filter": "datum.k == 'g'"}],
 "mark": {"type": "text", "font": "Liberation Serif", "fontWeight": "bold", "fontSize": 26, "align": "left", "baseline": "middle"},
 "encoding": {"x": {"field": "x", "type": "quantitative"}, "y": {"field": "y", "type": "quantitative"}, "text": {"field": "t"},
  "fill": {"field": "m", "type": "nominal", "scale": {"domain": ["Silicon oil (air)", "Methanol (air)", "Silicon oil (glove box)"], "range": ["#139a3c", "#0b150b", "#000080"]}, "legend": null}}},
{"data": {"name": "RT"}, "transform": [{"filter": "datum.k == 'n'"}],
 "mark": {"type": "text", "font": "Liberation Serif", "fontWeight": "bold", "fontSize": 20, "lineHeight": 20, "lineBreak": "\n", "align": "center", "baseline": "middle"},
 "encoding": {"x": {"field": "x", "type": "quantitative"}, "y": {"field": "y", "type": "quantitative"}, "text": {"field": "t"},
  "fill": {"field": "m", "type": "nominal", "scale": {"domain": ["Silicon oil (air)", "Methanol (air)", "Silicon oil (glove box)"], "range": ["#139a3c", "#0b150b", "#000080"]}, "legend": null}}}
]
}
]
}
